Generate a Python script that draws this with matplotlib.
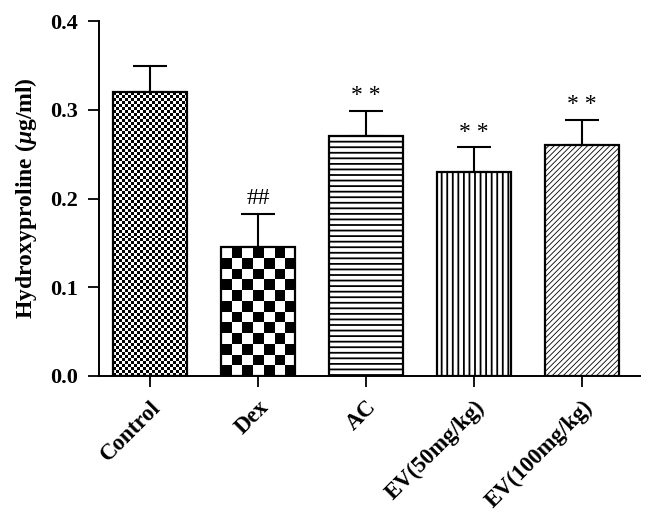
import numpy as np
import matplotlib.pyplot as plt

# data
groups = ['Control', 'Dex', 'AC', 'EV(50mg/kg)', 'EV(100mg/kg)']
means = [0.32, 0.145, 0.27, 0.23, 0.26]
errs = [0.029, 0.038, 0.029, 0.028, 0.029]
marks = ['', '##', '* *', '* *', '* *']

plt.rcParams['font.family'] = 'Liberation Serif'
plt.rcParams['mathtext.fontset'] = 'custom'
plt.rcParams['mathtext.it'] = 'Liberation Serif:italic:bold'
plt.rcParams['mathtext.rm'] = 'Liberation Serif:bold'
plt.rcParams['hatch.linewidth'] = 1.0

fig = plt.figure(figsize=(6.52, 5.17), dpi=100)
ax = fig.add_axes([0.152, 0.273, 0.83, 0.686])
x = np.arange(len(groups))
xlim = (-0.47, 4.54)
ylim = (0, 0.4)
ax.set_xlim(*xlim)
ax.set_ylim(*ylim)

# patterns: checker cell size in px (None -> hatch)
checker_px = [3, 11, None, None, None]
hatches = [None, None, '---', '|||', '//////']
hatch_lw = [1.0, 1.0, 1.3, 1.3, 0.6]

bars = ax.bar(x, means, width=0.69, color='white', edgecolor='black',
              linewidth=1.6, zorder=2)


def checker(bar, cell_px):
    x0, y0 = bar.get_x(), bar.get_y()
    w, h = bar.get_width(), bar.get_height()
    (px0, py0), (px1, py1) = ax.transData.transform([(x0, y0), (x0 + w, y0 + h)])
    nx = max(1, int(round((px1 - px0) / cell_px)))
    ny = max(1, int(round((py1 - py0) / cell_px)))
    board = np.add.outer(np.arange(ny), np.arange(nx)) % 2
    im = ax.imshow(board, cmap='gray', extent=(x0, x0 + w, y0, y0 + h),
                   origin='lower', interpolation='nearest', aspect='auto', zorder=1.5)
    im.set_clip_path(bar)


for b, c, hp, hl in zip(bars, checker_px, hatches, hatch_lw):
    if c is not None:
        b.set_facecolor('none')
        checker(b, c)
    if hp is not None:
        b.set_hatch(hp)
        if hasattr(b, 'set_hatch_linewidth'):
            b.set_hatch_linewidth(hl)

ax.set_xlim(*xlim)
ax.set_ylim(*ylim)

ax.errorbar(x, means, yerr=[np.zeros(len(x)), errs], fmt='none', ecolor='black',
            elinewidth=1.5, capsize=12, capthick=1.5, zorder=1)

for xi, m, e, t in zip(x, means, errs, marks):
    if t:
        ax.text(xi, m + e + 0.005, t, ha='center', va='bottom', fontsize=17)

ax.spines['top'].set_visible(False)
ax.spines['right'].set_visible(False)
ax.spines['left'].set_linewidth(1.4)
ax.spines['bottom'].set_linewidth(1.4)

ax.set_yticks([0.0, 0.1, 0.2, 0.3, 0.4])
ax.set_yticklabels(['0.0', '0.1', '0.2', '0.3', '0.4'], fontsize=16, fontweight='bold')
ax.set_xticks(x)
ax.set_xticklabels(groups, fontsize=16.5, fontweight='bold', rotation=45,
                   ha='right', rotation_mode='anchor')
ax.tick_params(axis='both', direction='out', length=8, width=1.3, pad=7)

ax.set_ylabel(r'Hydroxyproline ($\mu$g/ml)', fontsize=17, fontweight='bold', labelpad=8)

fig.savefig('out.png', dpi=100)
